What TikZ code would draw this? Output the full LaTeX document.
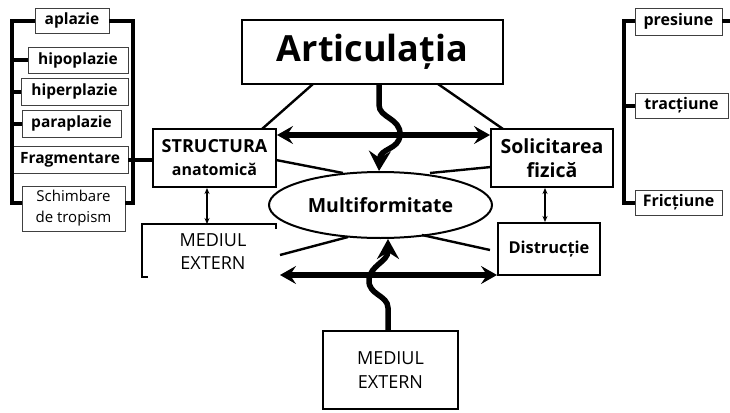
\documentclass[tikz,border=0pt]{standalone}
\usepackage{fontspec}
\setmainfont{Open Sans}
\usetikzlibrary{arrows.meta,shapes.geometric,calc}
\begin{document}
\begin{tikzpicture}[x=1pt,y=-1pt,
  bigbox/.style={draw,line width=2pt,inner sep=0pt,align=center},
  smallbox/.style={draw=black!75,line width=0.9pt,inner sep=0pt,align=center,font=\bfseries\fontsize{15.5}{18}\selectfont},
  rbox/.style={smallbox,font=\bfseries\fontsize{16}{18}\selectfont},
  brack/.style={line width=4pt},
  thin line/.style={line width=2.4pt},
  thick arrow/.style={line width=5.5pt,{Stealth[length=16pt,width=18pt,inset=6pt]}-{Stealth[length=16pt,width=18pt,inset=6pt]}},
  wavy/.style={line width=5.5pt,-{Stealth[length=20pt,width=22pt,inset=7pt]}},
  dbl/.style={line width=1.3pt,{Stealth[length=6pt,width=5pt]}-{Stealth[length=6pt,width=5pt]}}
]
\useasboundingbox (0,0) rectangle (730,412);

% main boxes
\node[bigbox,line width=2.4pt,minimum width=261pt,minimum height=64pt,font=\bfseries\fontsize{36}{40}\selectfont] (art) at (372.5,52) {Articulația};
\node[bigbox,minimum width=123pt,minimum height=58pt,font=\bfseries\fontsize{18}{23}\selectfont] (str) at (214.5,158) {STRUCTURA\\{\fontsize{16}{23}\selectfont anatomică}};
\node[bigbox,minimum width=122pt,minimum height=58pt,font=\bfseries\fontsize{19.5}{24}\selectfont] (sol) at (552,158) {Solicitarea\\fizică};
\node[draw,ellipse,line width=2pt,minimum width=223pt,minimum height=66pt,inner sep=0pt,font=\bfseries\fontsize{19.5}{22}\selectfont] (mult) at (380.5,205) {Multiformitate};
\node[bigbox,minimum width=102pt,minimum height=52pt,font=\bfseries\fontsize{16.4}{19}\selectfont] (dis) at (549,249) {Distrucție};
\node[bigbox,minimum width=135pt,minimum height=78pt,font=\fontsize{18}{24}\selectfont] (med2) at (390.5,370) {MEDIUL\\EXTERN};
\node[inner sep=0pt,align=center,font=\fontsize{18}{23.5}\selectfont] (med1) at (213,251.5) {MEDIUL\\EXTERN};
\coordinate (m1a) at (276,229);
\coordinate (m1b) at (276,224);
\coordinate (m1c) at (142,224);
\coordinate (m1d) at (142,277);
\coordinate (m1e) at (148,277);
\draw[line width=2pt] (m1a) -- (m1b) -- (m1c) -- (m1d) -- (m1e);

% left column
\node[smallbox,minimum width=74pt,minimum height=25pt] (apl) at (72,20.5) {aplazie};
\node[smallbox,minimum width=100pt,minimum height=26pt] (hipo) at (78,60) {hipoplazie};
\node[smallbox,minimum width=107pt,minimum height=27pt] (hiper) at (74.5,91.5) {hiperplazie};
\node[smallbox,minimum width=99pt,minimum height=27pt] (para) at (71.5,123.5) {paraplazie};
\node[smallbox,minimum width=116pt,minimum height=27pt] (frag) at (70,159.5) {Fragmentare};
\node[smallbox,minimum width=103pt,minimum height=45pt,font=\fontsize{15}{21}\selectfont] (sch) at (73.5,208.5) {Schimbare\\de tropism};

\coordinate (lbt) at (12,21);
\coordinate (lbb) at (12,203);
\coordinate (rbt) at (133,21);
\coordinate (rbb) at (133,203);
\draw[brack] (apl.west |- lbt) -- (lbt) -- (lbb) -- (sch.west |- lbb);
\draw[brack] (apl.east |- rbt) -- (rbt) -- (rbb) -- (sch.east |- rbb);
\draw[brack] (hipo.west) -- (hipo.west -| lbt);
\draw[brack] (hiper.west) -- (hiper.west -| lbt);
\draw[brack] (para.west) -- (para.west -| lbt);
\draw[brack] (frag.east |- 0,160) -- (str.west |- 0,160);

% right column
\node[rbox,minimum width=87pt,minimum height=27pt] (pres) at (678.5,21.5) {presiune};
\node[rbox,minimum width=93pt,minimum height=25pt] (trac) at (681.5,105.5) {tracțiune};
\node[rbox,minimum width=87pt,minimum height=25pt] (fric) at (678.5,202.5) {Fricțiune};
\coordinate (pbt) at (624,21);
\coordinate (pbb) at (624,202.5);
\coordinate (pend) at (730,21);
\draw[brack] (pres.west |- pbt) -- (pbt) -- (pbb) -- (fric.west);
\draw[brack] (trac.west) -- (trac.west -| pbt);
\draw[brack] (pres.east |- pend) -- (pend);

% thin connectors
\coordinate (c1) at (313,84);  \coordinate (c2) at (262,129);
\coordinate (c3) at (438,84);  \coordinate (c4) at (503,129);
\coordinate (c5) at (276,160); \coordinate (c6) at (343,173);
\coordinate (c7) at (491,167); \coordinate (c8) at (430,173);
\coordinate (c9) at (280,255); \coordinate (c10) at (348,237);
\coordinate (c11) at (422,235); \coordinate (c12) at (490,250);
\draw[thin line] (c1) -- (c2);
\draw[thin line] (c3) -- (c4);
\draw[thin line] (c5) -- (c6);
\draw[thin line] (c7) -- (c8);
\draw[thin line] (c9) -- (c10);
\draw[thin line] (c11) -- (c12);

% thick double arrows
\draw[thick arrow] (str.east |- 0,135) -- (sol.west |- 0,135);
\coordinate (la) at (280,275);
\draw[thick arrow] (la) -- (dis.west |- la);

% wavy arrows
\draw[wavy] (art.south -| 379,0) -- (379,105) .. controls (379,118) and (401,118) .. (400,135) .. controls (399,150) and (380,148) .. (mult.north -| 379,0);
\draw[wavy] (med2.north -| 388,0) -- (388,308) .. controls (388,295) and (368,295) .. (369,280) .. controls (370,265) and (388,262) .. (mult.south -| 388,0);

% thin double arrows
\draw[dbl] (str.south -| 207,0) -- (m1c -| 207,0);
\draw[dbl] (sol.south -| 545,0) -- (dis.north -| 545,0);
\end{tikzpicture}
\end{document}
